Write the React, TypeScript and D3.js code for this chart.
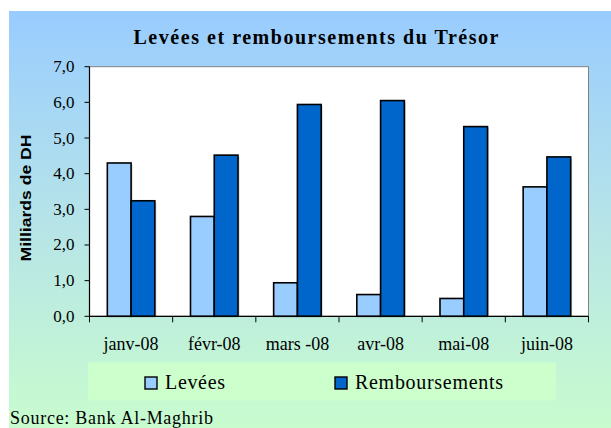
import React from "react";
import * as d3 from "d3";

const categories = ["janv-08", "févr-08", "mars -08", "avr-08", "mai-08", "juin-08"];
const seriesNames = ["Levées", "Remboursements"];
const levees = [4.3, 2.8, 0.94, 0.61, 0.5, 3.63];
const remboursements = [3.24, 4.52, 5.94, 6.05, 5.32, 4.47];
const yTicks = [0, 1, 2, 3, 4, 5, 6, 7];
const colors = ["#99ccff", "#0066cc"];

const W = 611;
const H = 428;
const plot = { left: 89.5, right: 588.5, top: 66.7, bottom: 316.3 };

export default function App() {
  const x0 = d3.scaleBand<string>().domain(categories).range([plot.left, plot.right]).padding(0);
  const x1 = d3
    .scaleBand<string>()
    .domain(seriesNames)
    .range([0, x0.bandwidth()])
    .paddingInner(0)
    .paddingOuter(0.75);
  const y = d3.scaleLinear().domain([0, 7]).range([plot.bottom, plot.top]);
  const fmt = (v: number) => v.toFixed(1).replace(".", ",");
  const values = [levees, remboursements];
  const serif = "Liberation Serif, Times New Roman, serif";
  const sans = "Liberation Sans, Arial, sans-serif";
  const legendX = [145, 335];
  const legendLen = [60, 148];

  return (
    <svg width={W} height={H} style={{ position: "absolute", left: 0, top: 0 }}>
      <defs>
        <linearGradient id="bg" x1="0" y1="0" x2="0" y2="1">
          <stop offset="0" stopColor="#99ccff" />
          <stop offset="0.55" stopColor="#b8e6e6" />
          <stop offset="1" stopColor="#c8fcce" />
        </linearGradient>
      </defs>
      <rect x={9} y={11} width={W - 9} height={H - 11} fill="url(#bg)" />
      <text
        x={316}
        y={44}
        textAnchor="middle"
        style={{ fontFamily: serif }}
        fontWeight="bold"
        fontSize={20}
        textLength={365}
        lengthAdjust="spacing"
        fill="#000"
      >
        Levées et remboursements du Trésor
      </text>
      <rect
        x={plot.left}
        y={plot.top}
        width={plot.right - plot.left}
        height={plot.bottom - plot.top}
        fill="#ffffff"
        stroke="#808080"
        strokeWidth={1}
      />
      {categories.map((c, i) =>
        seriesNames.map((s, j) => {
          const bx = (x0(c) as number) + (x1(s) as number);
          const by = y(values[j][i]);
          return (
            <g key={c + s}>
              <rect
                x={bx + 1.5}
                y={by + 1.5}
                width={x1.bandwidth()}
                height={y(0) - by - 1.5}
                fill="#b0b0b0"
                opacity={0.6}
              />
              <rect
                x={bx}
                y={by}
                width={x1.bandwidth()}
                height={y(0) - by}
                fill={colors[j]}
                stroke="#000"
                strokeWidth={1.6}
              />
            </g>
          );
        })
      )}
      <line x1={plot.left} x2={plot.left} y1={plot.top} y2={plot.bottom} stroke="#000" strokeWidth={1.2} />
      {yTicks.map((t) => (
        <g key={t}>
          <line x1={plot.left - 5} x2={plot.left} y1={y(t)} y2={y(t)} stroke="#000" strokeWidth={1} />
          <text x={74.5} y={y(t) + 5.5} textAnchor="end" style={{ fontFamily: serif }} fontSize={17} fill="#000">
            {fmt(t)}
          </text>
        </g>
      ))}
      <line x1={plot.left} x2={plot.right} y1={plot.bottom} y2={plot.bottom} stroke="#000" strokeWidth={1.2} />
      {[...categories.map((c) => x0(c) as number), plot.right].map((xv, i) => (
        <line key={i} x1={xv} x2={xv} y1={plot.bottom} y2={plot.bottom + 6} stroke="#000" strokeWidth={1} />
      ))}
      {categories.map((c) => (
        <text
          key={c}
          x={(x0(c) as number) + x0.bandwidth() / 2}
          y={350}
          textAnchor="middle"
          style={{ fontFamily: serif }}
          fontSize={18}
          fill="#000"
        >
          {c}
        </text>
      ))}
      <text
        transform={`translate(31,198) rotate(-90)`}
        textAnchor="middle"
        style={{ fontFamily: sans }}
        fontWeight="bold"
        fontSize={15}
        textLength={127}
        lengthAdjust="spacingAndGlyphs"
        fill="#000"
      >
        Milliards de DH
      </text>
      <rect x={88} y={362.5} width={468} height={38} fill="#ccffcc" />
      {seriesNames.map((s, j) => (
        <g key={s}>
          <rect x={legendX[j]} y={377} width={12} height={12} fill={colors[j]} stroke="#000" strokeWidth={1.4} />
          <text
            x={legendX[j] + 20}
            y={389}
            style={{ fontFamily: serif }}
            fontSize={20}
            textLength={legendLen[j]}
            lengthAdjust="spacing"
            fill="#000"
          >
            {s}
          </text>
        </g>
      ))}
      <text
        x={10}
        y={424}
        style={{ fontFamily: serif }}
        fontSize={18}
        textLength={203}
        lengthAdjust="spacing"
        fill="#000"
      >
        Source: Bank Al-Maghrib
      </text>
    </svg>
  );
}
